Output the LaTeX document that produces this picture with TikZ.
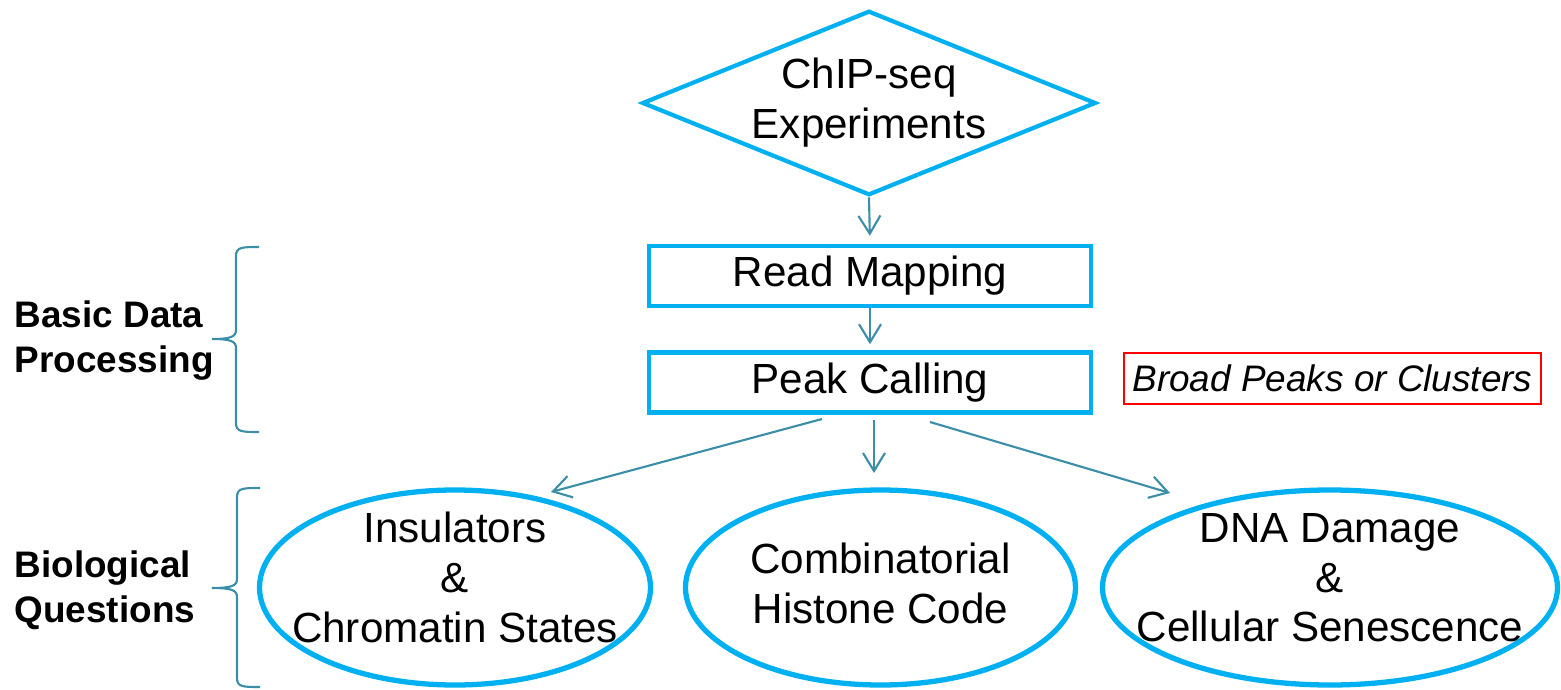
\documentclass[tikz,border=0pt]{standalone}
\usepackage{fontspec}
\setmainfont{Liberation Sans}
\usepackage{xcolor}
\usetikzlibrary{arrows.meta,positioning,shapes.geometric}

\definecolor{boxblue}{RGB}{0,176,240}
\definecolor{linkteal}{RGB}{58,142,168}

\begin{document}
\begin{tikzpicture}[
    every node/.style={font=\fontsize{12}{14.2}\selectfont},
    stepbox/.style={draw=boxblue,line width=1.3pt,minimum width=4.42cm,minimum height=0.60cm,inner sep=0pt},
    question/.style={draw=boxblue,ellipse,line width=1.5pt,minimum height=1.95cm,inner xsep=-1cm,inner ysep=-0.25cm,
                     text depth=0.2cm,align=center},
    flow/.style={draw=linkteal,line width=0.6pt,-{Straight Barb[length=1.8mm,width=2.2mm]}},
    curly/.style={draw=linkteal,line width=0.6pt},
    sidelabel/.style={anchor=west,align=left,inner sep=0pt,font=\fontsize{10.5}{12.8}\selectfont\bfseries}
  ]
  \useasboundingbox (0,0) rectangle (15.61,-6.90);
  % Pipeline
  \node[diamond,draw=boxblue,line width=1.2pt,aspect=2.46,inner sep=0pt,
        minimum width=4.47cm,minimum height=1.82cm,align=center] (exp) at (8.69,-1.03) {ChIP-seq\\Experiments};
  \node[stepbox] (read) at (8.70,-2.76) {Read Mapping};
  \node[stepbox] (peak) at (8.70,-3.825) {Peak Calling};
  \node[draw=red,line width=0.6pt,minimum width=4.17cm,minimum height=0.51cm,inner sep=0pt,
        font=\fontsize{10.5}{12.6}\selectfont\itshape] (broad) at (13.325,-3.785) {Broad Peaks or Clusters};
  % Questions
  \node[question,minimum width=3.91cm] (insul) at (4.55,-5.875) {Insulators\\\&\\Chromatin States};
  \node[question,minimum width=3.90cm,text depth=0.08cm] (combo) at (8.805,-5.875) {Combinatorial\\Histone Code};
  \node[question,minimum width=4.55cm] (dna) at (13.30,-5.875) {DNA Damage\\\&\\Cellular Senescence};
  % Side labels
  \node[sidelabel] (basic) at (0.14,-3.41) {Basic Data\\Processing};
  \node[sidelabel] (bio) at (0.14,-5.90) {Biological\\Questions};
  % Arrows
  \draw[flow,shorten >=0.08cm] (exp.south) -- (read.north);
  \draw[flow,shorten >=0.06cm] (read.south) -- (peak.north);
  \coordinate (peakL) at (8.22,-4.19);
  \coordinate (peakM) at (8.74,-4.20);
  \coordinate (peakR) at (9.30,-4.22);
  \coordinate (insulTip) at (5.51,-4.92);
  \coordinate (comboTip) at (8.74,-4.73);
  \coordinate (dnaTip) at (11.70,-4.93);
  \draw[flow] (peakL) -- (insulTip);
  \draw[flow] (peakM) -- (comboTip);
  \draw[flow] (peakR) -- (dnaTip);
  % Braces
  \draw[curly] (2.59,-2.47) .. controls (2.42,-2.47) and (2.36,-2.47) .. (2.36,-2.56) -- (2.36,-3.30)
    .. controls (2.36,-3.37) and (2.30,-3.39) .. (2.12,-3.39)
    .. controls (2.30,-3.39) and (2.36,-3.41) .. (2.36,-3.48) -- (2.36,-4.23)
    .. controls (2.36,-4.32) and (2.42,-4.32) .. (2.59,-4.32);
  \draw[curly] (2.60,-4.88) .. controls (2.43,-4.88) and (2.37,-4.88) .. (2.37,-4.97) -- (2.37,-5.79)
    .. controls (2.37,-5.86) and (2.31,-5.88) .. (2.12,-5.88)
    .. controls (2.31,-5.88) and (2.37,-5.90) .. (2.37,-5.97) -- (2.37,-6.78)
    .. controls (2.37,-6.87) and (2.43,-6.87) .. (2.60,-6.87);
\end{tikzpicture}
\end{document}
